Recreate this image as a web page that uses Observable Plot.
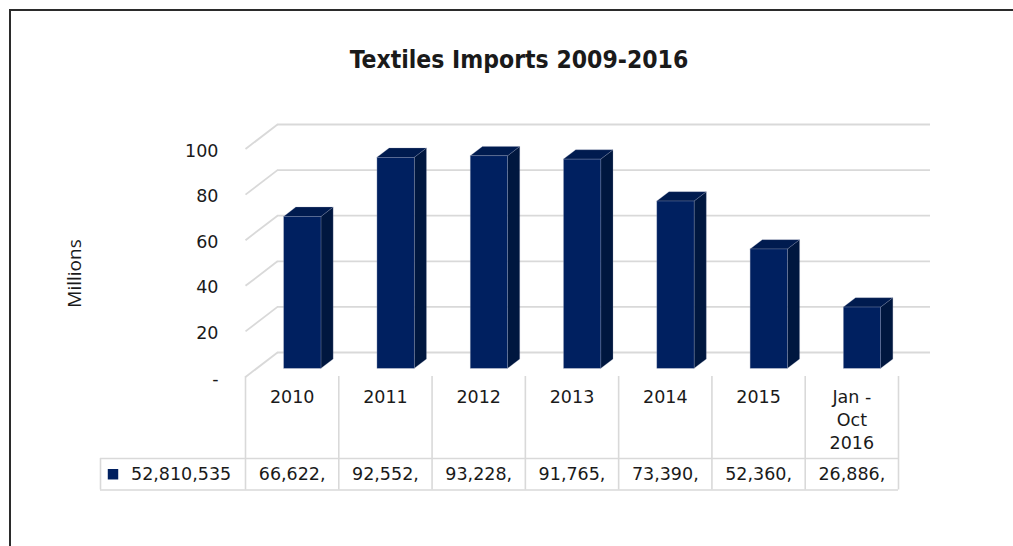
<!DOCTYPE html>
<html>
<head>
<meta charset="utf-8">
<script src="https://cdn.jsdelivr.net/npm/d3@7"></script>
<script src="https://cdn.jsdelivr.net/npm/@observablehq/plot@0.6"></script>
<style>
  html, body { margin: 0; padding: 0; background: #fff; }
  #wrap { position: relative; width: 1013px; height: 546px; overflow: hidden; background: #fff; }
  #frame { position: absolute; left: 9px; top: 9px; width: 1100px; height: 600px;
           border-left: 2px solid #2b2b2b; border-top: 2px solid #2b2b2b; box-sizing: border-box; }
  #title { position: absolute; left: 319px; width: 400px; top: 46px; text-align: center;
           font-family: "DejaVu Sans Condensed", "DejaVu Sans", sans-serif; font-stretch: condensed;
           font-weight: bold; font-size: 24.5px; line-height: 28px; color: #1a1a1a; white-space: nowrap; }
  #chart, #table { position: absolute; left: 0; }
  #chart { top: 0; }
  #table { top: 376px; }
</style>
</head>
<body>
<div id="wrap">
  <div id="frame"></div>
  <div id="title">Textiles Imports 2009-2016</div>
  <div id="chart"></div>
  <div id="table"></div>
</div>
<script>
// ---------- data ----------
const categories = ["2010", "2011", "2012", "2013", "2014", "2015", "Jan -\nOct\n2016"];
const importsMillions = [66.622, 92.552, 93.228, 91.765, 73.390, 52.360, 26.886];
const tableCells = ["66,622,", "92,552,", "93,228,", "91,765,", "73,390,", "52,360,", "26,886,"];
const seriesLabel = "52,810,535";
const yTicks = [0, 20, 40, 60, 80, 100];
const yTickLabels = ["-", "20", "40", "60", "80", "100"];
const yAxisTitle = "Millions";

// ---------- layout ----------
const W = 1013, H = 546;
const xRange = [245, 898];           // front edge of the floor
const yRange = [376.5, 148.5];       // front projection of 0..100
const nCat = categories.length;
const band = (xRange[1] - xRange[0]) / nCat;
const pxPerY = (yRange[0] - yRange[1]) / 100;
const depthPx = [32, -24.5];         // 3-D depth of the chart (back wall offset)
const depthX = depthPx[0] / band;    // in x units
const depthY = -depthPx[1] / pxPerY; // in y units
const barFront = 0.334, barBack = 0.714;   // bar position within the depth
const barW = 0.4;                    // fraction of band
const grid = "#d9d9d9";
const navy = "#002060", navySide = "#00173f", navyTop = "#001b4f";
const fontStyle = {fontFamily: "'DejaVu Sans', sans-serif", fontSize: "17.5px", color: "#1a1a1a", background: "transparent", overflow: "visible"};

const bars = categories.map((c, i) => ({i, c, v: importsMillions[i]}));
const bd = (barBack - barFront);
const fdx = barFront * depthPx[0], fdy = barFront * depthPx[1];
const sideU = bd * depthX, sideV = bd * depthY;

const sidePts = bars.flatMap(b => [
  {i: b.i, x: b.i + 0.5 + barW / 2, y1: 0, y2: b.v},
  {i: b.i, x: b.i + 0.5 + barW / 2 + sideU, y1: sideV, y2: b.v + sideV}
]);
const topPts = bars.flatMap(b => [
  {i: b.i, y: b.v, x1: b.i + 0.5 - barW / 2, x2: b.i + 0.5 + barW / 2},
  {i: b.i, y: b.v + sideV, x1: b.i + 0.5 - barW / 2 + sideU, x2: b.i + 0.5 + barW / 2 + sideU}
]);

const chart = Plot.plot({
  width: W, height: H,
  margin: 0,
  style: fontStyle,
  x: {type: "linear", domain: [0, nCat], range: xRange, axis: null},
  y: {type: "linear", domain: [0, 100], range: yRange, axis: null},
  marks: [
    // back wall gridlines
    Plot.ruleY(yTicks, {y: d => d, x1: 0, x2: nCat, dx: depthPx[0], dy: depthPx[1], stroke: grid, strokeWidth: 1.8}),
    // side wall / floor diagonals
    Plot.link(yTicks, {x1: 0, y1: d => d, x2: depthX, y2: d => d + depthY, stroke: grid, strokeWidth: 1.8}),
    // bar side faces
    Plot.areaY(sidePts, {x: "x", y1: "y1", y2: "y2", z: "i", fill: navySide, stroke: "#8e97b3", strokeWidth: 0.5, strokeOpacity: 0.5, dx: fdx, dy: fdy}),
    // bar top faces
    Plot.areaX(topPts, {y: "y", x1: "x1", x2: "x2", z: "i", fill: navyTop, stroke: "#8e97b3", strokeWidth: 0.5, strokeOpacity: 0.5, dx: fdx, dy: fdy}),
    // bar front faces
    Plot.rect(bars, {x1: d => d.i + 0.5 - barW / 2, x2: d => d.i + 0.5 + barW / 2, y1: 0, y2: "v", fill: navy, stroke: "#9aa3bd", strokeWidth: 0.6, strokeOpacity: 0.6, dx: fdx, dy: fdy}),
    // y tick labels
    Plot.text(yTicks, {x: 0, y: d => d, text: (d, i) => yTickLabels[i], textAnchor: "end", dx: -27, dy: 2}),
    // y axis title
    Plot.text([yAxisTitle], {frameAnchor: "left", textAnchor: "middle", dx: 74, dy: 0, rotate: -90, text: d => d, fontFamily: "'Open Sans', sans-serif", fontSize: 19})
  ]
});
document.getElementById("chart").appendChild(chart);

// ---------- data table ----------
const headerH = 82, rowH = 31.5, TH = headerH + rowH + 2;
const keyLeft = -(xRange[0] - 100) / band;
const colEdges = categories.map((c, i) => i).concat([nCat]);
const table = Plot.plot({
  width: W, height: TH,
  margin: 0,
  style: fontStyle,
  x: {type: "linear", domain: [0, nCat], range: xRange, axis: null},
  y: {type: "linear", domain: [0, TH], range: [0, TH], axis: null},
  marks: [
    Plot.ruleX(colEdges, {x: d => d, y1: 0, y2: headerH + rowH, stroke: grid, strokeWidth: 1.6}),
    Plot.ruleX([keyLeft], {x: d => d, y1: headerH, y2: headerH + rowH, stroke: grid, strokeWidth: 1.6}),
    Plot.ruleY([headerH, headerH + rowH], {y: d => d, x1: keyLeft, x2: nCat, stroke: grid, strokeWidth: 1.6}),
    Plot.text(categories, {x: (d, i) => i + 0.5, y: 10, text: d => d, lineAnchor: "top", lineHeight: 1.31}),
    Plot.text(tableCells, {x: (d, i) => i + 0.5, y: headerH + rowH / 2, text: d => d, lineAnchor: "middle"}),
    Plot.dot([seriesLabel], {x: keyLeft, y: headerH + rowH / 2, dx: 12.5, symbol: "square", r: 5.9, fill: navy, stroke: null}),
    Plot.text([seriesLabel], {x: keyLeft, y: headerH + rowH / 2, dx: 30.5, text: d => d, textAnchor: "start", lineAnchor: "middle"})
  ]
});
document.getElementById("table").appendChild(table);
</script>
</body>
</html>
